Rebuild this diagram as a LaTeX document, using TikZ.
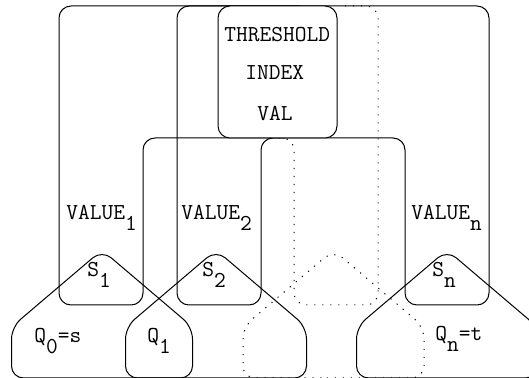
\documentclass[tikz,border=0pt]{standalone}
\usepackage{fontspec}
\usepackage{tikz}
\usetikzlibrary{positioning}
\newcommand{\lowsub}[1]{\raisebox{-5.5pt}{#1}}
\tikzset{
  frame/.style={line width=0.5pt, rounded corners=6pt},
  dotframe/.style={frame, dash pattern=on 0.6pt off 3.4pt},
  lbl/.style={font=\ttfamily\fontsize{11.4}{13}\selectfont, inner sep=0pt, anchor=base west},
}

\begin{document}
\begin{tikzpicture}[x=0.5pt,y=-0.5pt]
  \path[use as bounding box] (0,0) rectangle (529,378);

  % Outer frame (VALUE_1 and VALUE_n legs)
  \draw[frame] (101,305) -- (59,305) -- (59,6) -- (489,6) -- (489,305) -- (405,305)
    -- (405,138) -- (143,138) -- (143,305) -- cycle;

  % Inner frame: solid leg VALUE_2, dotted leg
  \draw[frame] (300,6) -- (177,6) -- (177,305) -- (261,305) -- (261,138) -- (285,138);
  \draw[dotframe] (345,6) -- (378,6) -- (378,305) -- (294,305) -- (294,138) -- (272,138);

  % Threshold box
  \draw[frame, fill=white] (218,6) rectangle (337,138);
  \node[lbl] (thr) at (224,42) {THRESHOLD};
  \node[lbl] (idx) at (245,80) {INDEX};
  \node[lbl] (val) at (257,121) {VAL};

  % Tents
  \foreach \cx in {102, 216, 447}{
    \draw[frame] (\cx,378) -- (\cx-90.5,378) -- (\cx-90.5,327) -- (\cx,250)
      -- (\cx+90.5,327) -- (\cx+90.5,378) -- cycle;
  }
  \draw[dotframe] (333.5,378) -- (243,378) -- (243,327) -- (333.5,250)
    -- (424,327) -- (424,378) -- cycle;

  % Labels
  \foreach \nm/\xa/\i in {v1/66/1, v2/181/2, vn/411/n}{
    \node[lbl] (\nm) at (\xa,220) {VALUE\lowsub{\i}};
  }
  \foreach \nm/\xa/\i in {s1/87/1, s2/202/2, sn/432/n}{
    \node[lbl] (\nm) at (\xa,277) {S\lowsub{\i}};
  }
  \node[lbl] (q0) at (34,343) {Q\lowsub{0}=s};
  \node[lbl] (q1) at (147,343) {Q\lowsub{1}};
  \node[lbl] (qn) at (435,341) {Q\lowsub{n}=t};
\end{tikzpicture}
\end{document}
